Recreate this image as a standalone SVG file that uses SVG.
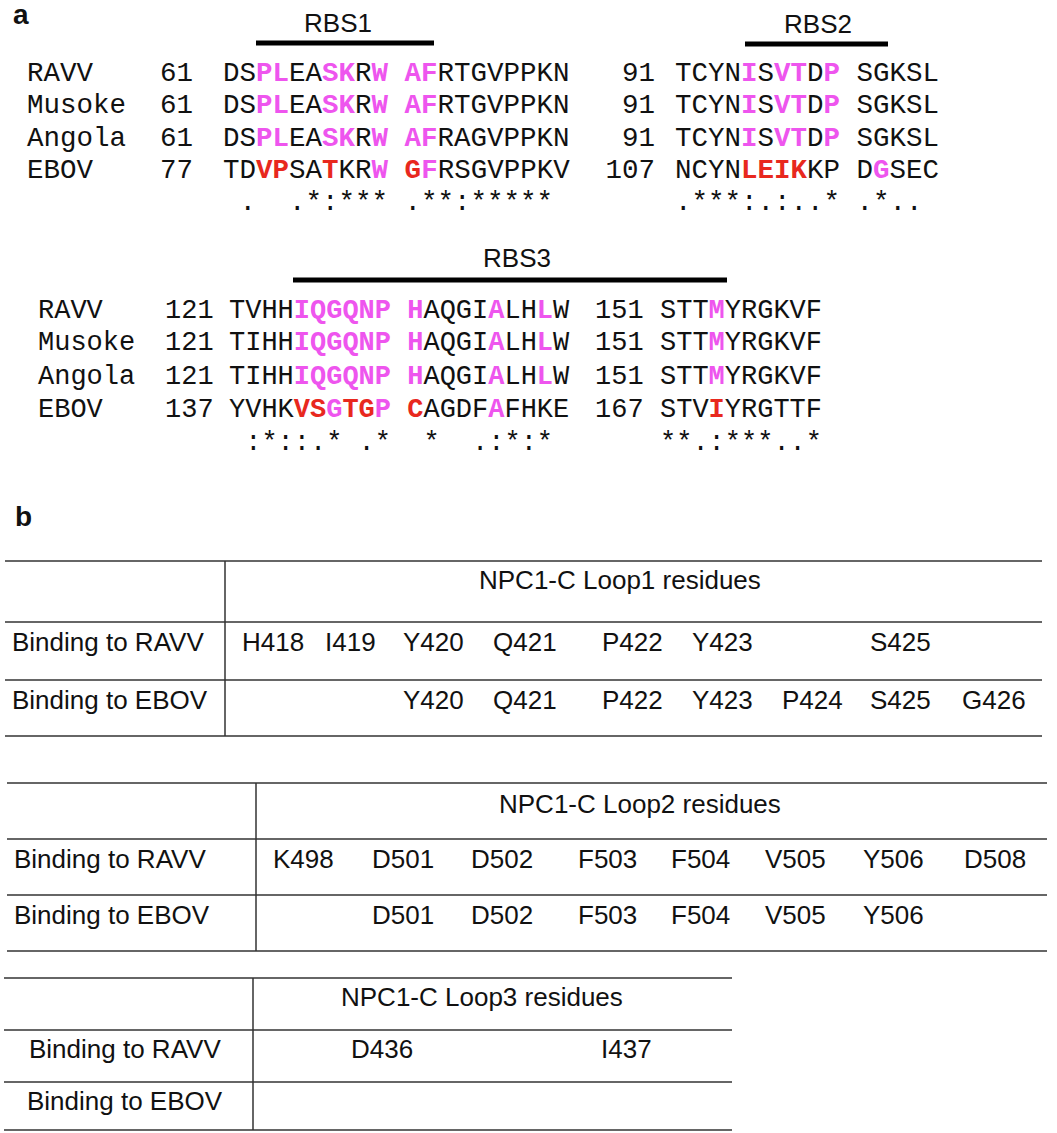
<svg xmlns="http://www.w3.org/2000/svg" width="1057" height="1133" viewBox="0 0 1057 1133">
<style>
.m{font-family:"Liberation Mono",monospace;font-size:27.5px;fill:#111;white-space:pre}
.m2{font-family:"Liberation Mono",monospace;font-size:27px;fill:#111;white-space:pre}
.p{fill:#EE55EE;font-weight:bold}
.r{fill:#E8281E;font-weight:bold}
.s{font-family:"Liberation Sans",Arial,sans-serif;font-size:26px;fill:#111}
.h{font-family:"Liberation Sans",Arial,sans-serif;font-size:28px;font-weight:bold;fill:#111}
.bar{stroke:#000;stroke-width:5}
.ln{stroke:#333;stroke-width:1.5}
</style>
<rect width="1057" height="1133" fill="#fff"/>
<text class="h" x="13" y="24">a</text>
<g id="block1">
<text class="s" x="338" y="32" text-anchor="middle">RBS1</text>
<line class="bar" x1="256" y1="43" x2="434" y2="43"/>
<text class="s" x="818" y="33" text-anchor="middle">RBS2</text>
<line class="bar" x1="745" y1="44" x2="888" y2="44"/>
<text class="m" x="27" y="81">RAVV</text>
<text class="m" x="27" y="113">Musoke</text>
<text class="m" x="27" y="146">Angola</text>
<text class="m" x="27" y="178">EBOV</text>
<text class="m" x="160" y="81">61</text>
<text class="m" x="160" y="113">61</text>
<text class="m" x="160" y="146">61</text>
<text class="m" x="160" y="178">77</text>
<text class="m" x="223" y="81">DS<tspan class="p">PL</tspan>EA<tspan class="p">SK</tspan>R<tspan class="p">W AF</tspan>RTGVPPKN</text>
<text class="m" x="223" y="113">DS<tspan class="p">PL</tspan>EA<tspan class="p">SK</tspan>R<tspan class="p">W AF</tspan>RTGVPPKN</text>
<text class="m" x="223" y="146">DS<tspan class="p">PL</tspan>EA<tspan class="p">SK</tspan>R<tspan class="p">W AF</tspan>RAGVPPKN</text>
<text class="m" x="223" y="178">TD<tspan class="r">VP</tspan>SA<tspan class="r">T</tspan>KR<tspan class="p">W</tspan> <tspan class="r">G</tspan><tspan class="p">F</tspan>RSGVPPKV</text>
<text class="m" x="223" y="210"> .  .*:*** .**:*****</text>
<text class="m" x="655" y="81" text-anchor="end">91</text>
<text class="m" x="655" y="113" text-anchor="end">91</text>
<text class="m" x="655" y="146" text-anchor="end">91</text>
<text class="m" x="655" y="178" text-anchor="end">107</text>
<text class="m" x="675" y="81">TCYN<tspan class="p">I</tspan>S<tspan class="p">VT</tspan>D<tspan class="p">P</tspan> SGKSL</text>
<text class="m" x="675" y="113">TCYN<tspan class="p">I</tspan>S<tspan class="p">VT</tspan>D<tspan class="p">P</tspan> SGKSL</text>
<text class="m" x="675" y="146">TCYN<tspan class="p">I</tspan>S<tspan class="p">VT</tspan>D<tspan class="p">P</tspan> SGKSL</text>
<text class="m" x="675" y="178">NCYN<tspan class="r">LEIK</tspan>KP D<tspan class="p">G</tspan>SEC</text>
<text class="m" x="675" y="210">.***:.:..* .*..</text>
</g>
<g id="block2">
<text class="s" x="517" y="267" text-anchor="middle">RBS3</text>
<line class="bar" x1="293" y1="280" x2="727" y2="280"/>
<text class="m2" x="38" y="318">RAVV</text>
<text class="m2" x="38" y="350">Musoke</text>
<text class="m2" x="38" y="384">Angola</text>
<text class="m2" x="38" y="417">EBOV</text>
<text class="m2" x="165" y="318">121</text>
<text class="m2" x="165" y="350">121</text>
<text class="m2" x="165" y="384">121</text>
<text class="m2" x="165" y="417">137</text>
<text class="m2" x="229" y="318">TVHH<tspan class="p">IQGQNP H</tspan>AQGI<tspan class="p">A</tspan>LH<tspan class="p">L</tspan>W</text>
<text class="m2" x="229" y="350">TIHH<tspan class="p">IQGQNP H</tspan>AQGI<tspan class="p">A</tspan>LH<tspan class="p">L</tspan>W</text>
<text class="m2" x="229" y="384">TIHH<tspan class="p">IQGQNP H</tspan>AQGI<tspan class="p">A</tspan>LH<tspan class="p">L</tspan>W</text>
<text class="m2" x="229" y="417">YVHK<tspan class="r">VS</tspan><tspan class="p">G</tspan><tspan class="r">TG</tspan><tspan class="p">P</tspan> <tspan class="r">C</tspan>AGDF<tspan class="p">A</tspan>FHKE</text>
<text class="m2" x="229" y="450"> :*::.* .*  *  .:*:*</text>
<text class="m2" x="595" y="318">151</text>
<text class="m2" x="595" y="350">151</text>
<text class="m2" x="595" y="384">151</text>
<text class="m2" x="595" y="417">167</text>
<text class="m2" x="660" y="318">STT<tspan class="p">M</tspan>YRGKVF</text>
<text class="m2" x="660" y="350">STT<tspan class="p">M</tspan>YRGKVF</text>
<text class="m2" x="660" y="384">STT<tspan class="p">M</tspan>YRGKVF</text>
<text class="m2" x="660" y="417">STV<tspan class="r">I</tspan>YRGTTF</text>
<text class="m2" x="660" y="450">**.:***..*</text>
</g>
<text class="h" x="15" y="526">b</text>
<g id="table1">
<line class="ln" x1="5" y1="561" x2="1042" y2="561"/>
<line class="ln" x1="5" y1="622" x2="1042" y2="622"/>
<line class="ln" x1="5" y1="680" x2="1042" y2="680"/>
<line class="ln" x1="5" y1="736" x2="1042" y2="736"/>
<line class="ln" x1="225" y1="561" x2="225" y2="736"/>
<text class="s" x="479" y="589">NPC1-C Loop1 residues</text>
<text class="s" x="12" y="651">Binding to RAVV</text>
<text class="s" x="12" y="709">Binding to EBOV</text>
<text class="s" x="242" y="651">H418</text>
<text class="s" x="325" y="651">I419</text>
<text class="s" x="403" y="651">Y420</text>
<text class="s" x="493" y="651">Q421</text>
<text class="s" x="602" y="651">P422</text>
<text class="s" x="692" y="651">Y423</text>
<text class="s" x="870" y="651">S425</text>
<text class="s" x="403" y="709">Y420</text>
<text class="s" x="493" y="709">Q421</text>
<text class="s" x="602" y="709">P422</text>
<text class="s" x="692" y="709">Y423</text>
<text class="s" x="782" y="709">P424</text>
<text class="s" x="870" y="709">S425</text>
<text class="s" x="962" y="709">G426</text>
</g>
<g id="table2">
<line class="ln" x1="7" y1="783" x2="1047" y2="783"/>
<line class="ln" x1="7" y1="839" x2="1047" y2="839"/>
<line class="ln" x1="7" y1="895" x2="1047" y2="895"/>
<line class="ln" x1="7" y1="951" x2="1047" y2="951"/>
<line class="ln" x1="256" y1="783" x2="256" y2="951"/>
<text class="s" x="499" y="813">NPC1-C Loop2 residues</text>
<text class="s" x="14" y="868">Binding to RAVV</text>
<text class="s" x="14" y="924">Binding to EBOV</text>
<text class="s" x="273" y="868">K498</text>
<text class="s" x="372" y="868">D501</text>
<text class="s" x="471" y="868">D502</text>
<text class="s" x="578" y="868">F503</text>
<text class="s" x="671" y="868">F504</text>
<text class="s" x="765" y="868">V505</text>
<text class="s" x="863" y="868">Y506</text>
<text class="s" x="964" y="868">D508</text>
<text class="s" x="372" y="924">D501</text>
<text class="s" x="471" y="924">D502</text>
<text class="s" x="578" y="924">F503</text>
<text class="s" x="671" y="924">F504</text>
<text class="s" x="765" y="924">V505</text>
<text class="s" x="863" y="924">Y506</text>
</g>
<g id="table3">
<line class="ln" x1="4" y1="978" x2="732" y2="978"/>
<line class="ln" x1="4" y1="1030" x2="732" y2="1030"/>
<line class="ln" x1="4" y1="1082" x2="732" y2="1082"/>
<line class="ln" x1="4" y1="1130" x2="732" y2="1130"/>
<line class="ln" x1="253" y1="978" x2="253" y2="1130"/>
<text class="s" x="341" y="1006">NPC1-C Loop3 residues</text>
<text class="s" x="29" y="1058">Binding to RAVV</text>
<text class="s" x="27" y="1110">Binding to EBOV</text>
<text class="s" x="351" y="1058">D436</text>
<text class="s" x="601" y="1058">I437</text>
</g>
</svg>
